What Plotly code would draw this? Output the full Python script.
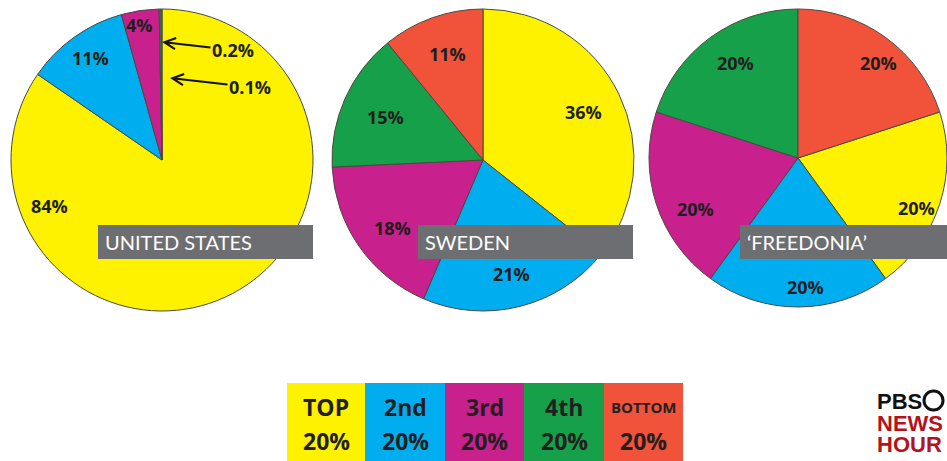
import plotly.graph_objects as go

W, H = 947, 461

# ---------------- data ----------------
quintiles = ["TOP 20%", "2nd 20%", "3rd 20%", "4th 20%", "BOTTOM 20%"]
legend_top = ["TOP", "2nd", "3rd", "4th", "BOTTOM"]
legend_bottom = ["20%", "20%", "20%", "20%", "20%"]
colors = ["#FFF200", "#00AEEF", "#C8208C", "#17A04A", "#F0533A"]

countries = ["UNITED STATES", "SWEDEN", "\u2018FREEDONIA\u2019"]
us_values = [84, 11, 4, 0.2, 0.1]
sweden_values = [36, 21, 18, 15, 11]
freedonia_values = [20, 20, 20, 20, 20]
all_values = [us_values, sweden_values, freedonia_values]

# ---------------- layout helpers (pixel -> paper) ----------------
def px(x):
    return x / W

def py(y):
    return 1 - y / H

# pie centres / radii in pixels
pie_geo = [(162, 160, 151), (483, 160, 151), (798, 158, 149)]
rotations = [0, 0, 72]

# label positions in pixels for each slice (order as values)
label_pos = [
    [(49, 206), (90, 58), (139, 25), None, None],
    [(583, 112), (511, 274), (392, 228), (385, 117), (447, 54)],
    [(916, 208), (805, 287), (695, 209), (735, 63), (878, 63)],
]
# arrow labels for the tiny US slices: (head point, text centre)
us_arrows = {3: ((162, 42), (233, 50)), 4: ((170, 78), (250, 87))}

box_geo = [(98, 313), (418, 633), (740, 965)]
box_y = (225, 259)

fig = go.Figure()

for i, vals in enumerate(all_values):
    cx, cy, r = pie_geo[i]
    fig.add_trace(go.Pie(
        labels=quintiles,
        values=vals,
        sort=False,
        direction="clockwise",
        rotation=rotations[i],
        marker=dict(colors=colors, line=dict(color="#4a4a40", width=1)),
        textinfo="none",
        hoverinfo="label+value",
        showlegend=False,
        domain=dict(x=[px(cx - r), px(cx + r)], y=[py(cy + r), py(cy - r)]),
    ))

annotations = []
pct_font = dict(family="Open Sans", size=18, color="#1e1e1e", weight="bold")

for i, vals in enumerate(all_values):
    for j, v in enumerate(vals):
        txt = f"{v:g}%"
        if i == 0 and j in us_arrows:
            (hx, hy), (tx, ty) = us_arrows[j]
            annotations.append(dict(
                x=px(hx), y=py(hy), xref="paper", yref="paper",
                text=txt, showarrow=True, ax=tx - hx, ay=ty - hy,
                arrowhead=5, arrowsize=1.1, arrowwidth=2, arrowcolor="#111",
                font=pct_font, standoff=0,
            ))
        else:
            x, y = label_pos[i][j]
            annotations.append(dict(
                x=px(x), y=py(y), xref="paper", yref="paper",
                text=txt, showarrow=False, font=pct_font,
                xanchor="center", yanchor="middle",
            ))

shapes = []
for i, name in enumerate(countries):
    x0, x1 = box_geo[i]
    shapes.append(dict(type="rect", xref="paper", yref="paper",
                       x0=px(x0), x1=px(x1), y0=py(box_y[1]), y1=py(box_y[0]),
                       fillcolor="#6D6E71", line=dict(width=0), layer="above"))
    annotations.append(dict(
        x=px(x0 + 5), y=py((box_y[0] + box_y[1]) / 2), xref="paper", yref="paper",
        text=name, showarrow=False, xanchor="left", yanchor="middle",
        font=dict(family="Lato", size=20, color="white"),
    ))

# legend strip
leg_x = [287, 365, 445, 524, 604, 683]
for k in range(5):
    shapes.append(dict(type="rect", xref="paper", yref="paper",
                       x0=px(leg_x[k]), x1=px(leg_x[k + 1]), y0=py(461), y1=py(383),
                       fillcolor=colors[k], line=dict(width=0)))
    cxl = (leg_x[k] + leg_x[k + 1]) / 2
    annotations.append(dict(
        x=px(cxl), y=py(407), xref="paper", yref="paper", text=legend_top[k],
        showarrow=False, xanchor="center", yanchor="middle",
        font=dict(family="Open Sans", size=15 if legend_top[k] == "BOTTOM" else 23,
                  color="#231f20", weight="bold"),
    ))
    annotations.append(dict(
        x=px(cxl), y=py(441), xref="paper", yref="paper", text=legend_bottom[k],
        showarrow=False, xanchor="center", yanchor="middle",
        font=dict(family="Open Sans", size=23, color="#231f20", weight="bold"),
    ))

# PBS NewsHour logo text
logo_font = dict(family="Liberation Sans", size=22, weight="bold")
for txt, yc, col in [("PBS", 401, "#111111"), ("NEWS", 422.5, "#B5121B"), ("HOUR", 444, "#B5121B")]:
    annotations.append(dict(
        x=px(876), y=py(yc), xref="paper", yref="paper", text=txt,
        showarrow=False, xanchor="left", yanchor="middle",
        font=dict(logo_font, color=col), height=20, valign="middle",
        borderpad=0,
    ))
shapes.append(dict(type="circle", xref="paper", yref="paper",
                   x0=px(924), x1=px(943), y0=py(410), y1=py(391),
                   line=dict(color="#111", width=3), fillcolor="white"))

fig.update_layout(
    width=W, height=H,
    margin=dict(l=0, r=0, t=0, b=0),
    paper_bgcolor="white", plot_bgcolor="white",
    shapes=shapes, annotations=annotations,
)

fig.write_html("out.html", config={"displayModeBar": False},
               post_script="document.body.style.margin='0';")
